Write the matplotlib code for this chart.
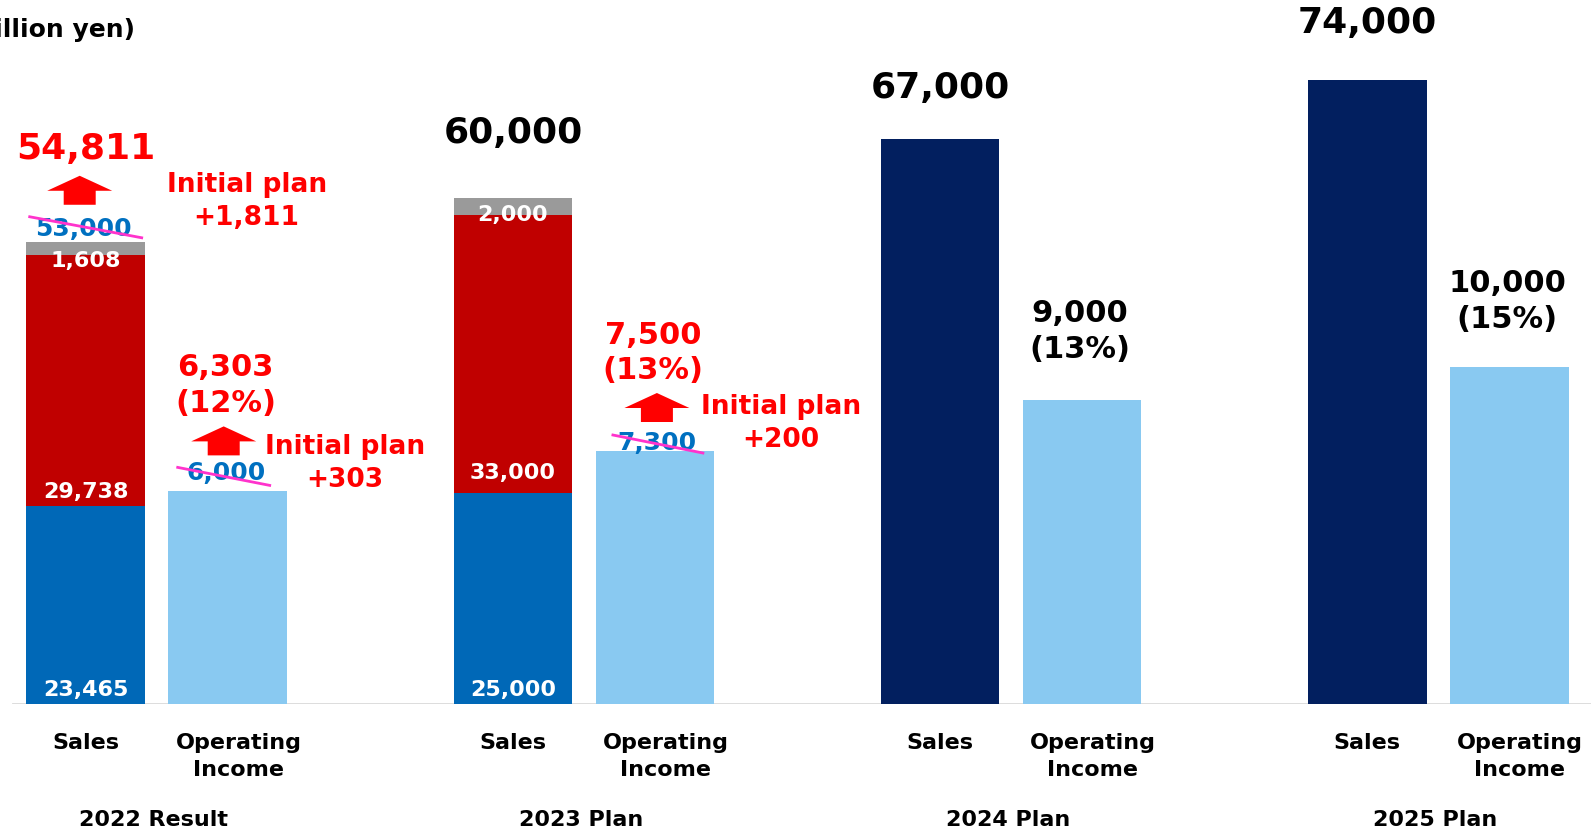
import matplotlib.pyplot as plt
import matplotlib.transforms as mtransforms
from matplotlib.patches import Polygon
from matplotlib.lines import Line2D
import numpy as np

plt.rcParams['font.family'] = ['DejaVu Sans']
plt.rcParams['font.weight'] = 'bold'

# values in million yen
years = ["2022 Result", "2023 Plan", "2024 Plan", "2025 Plan"]
sales_seg_a = [23465, 25000]      # blue segment (2022, 2023)
sales_seg_b = [29738, 33000]      # red segment
sales_seg_c = [1608, 2000]        # grey segment
sales_total = [54811, 60000, 67000, 74000]
op_income = [6303, 7500, 9000, 10000]
op_margin = [12, 13, 13, 15]
plan_sales_2022 = 53000
plan_oi = [6000, 7300]            # initial plans for 2022, 2023

C_BLUE = '#0068B7'
C_RED = '#C00000'
C_GREY = '#9A9A9A'
C_NAVY = '#021F5F'
C_LIGHT = '#89C9F1'
C_TXT_RED = '#FF0000'
C_TXT_BLUE = '#0070C0'
C_STRIKE = '#FF33CC'

fig = plt.figure(figsize=(15.91, 8.31), dpi=100)
ax = fig.add_axes([0, 127 / 831, 1, 704 / 831])
ax.set_xlim(-0.3668, 3.3574)
ax.set_ylim(0, 83480)
ax2 = ax.twinx()
ax2.set_ylim(0, 83480 / 4)   # operating income drawn at 4x scale

for a in (ax, ax2):
    for s in a.spines.values():
        s.set_visible(False)
ax.set_yticks([])
ax2.set_yticks([])

groups = np.arange(len(years))
off = 0.1662
w = 0.278
sales_x = groups - off
oi_x = groups + off

# sales bars
ax.bar(sales_x[:2], sales_seg_a, w, color=C_BLUE, zorder=2)
bottom_b = np.array(sales_seg_a)
ax.bar(sales_x[:2], sales_seg_b, w, bottom=bottom_b, color=C_RED, zorder=2)
bottom_c = bottom_b + np.array(sales_seg_b)
ax.bar(sales_x[:2], sales_seg_c, w, bottom=bottom_c, color=C_GREY, zorder=2)
ax.bar(sales_x[2:], sales_total[2:], w, color=C_NAVY, zorder=2)

# operating income bars
ax2.bar(oi_x, op_income, w, color=C_LIGHT, zorder=2)

ax.axhline(0, xmin=0.008, xmax=1, color='#D9D9D9', lw=2, zorder=1)


def px(a, x, y):
    # pixel-offset transform anchored at a data point
    return mtransforms.Affine2D() + mtransforms.ScaledTranslation(x, y, a.transData)


def up_arrow(a, x, y, dx, dy):
    verts = np.array([(-16, 0), (16, 0), (16, 14), (32.5, 14), (0, 29),
                      (-32.5, 14), (-16, 14)]) + (dx, dy)
    a.add_patch(Polygon(verts, closed=True, color=C_TXT_RED, lw=0,
                        transform=px(a, x, y), clip_on=False, zorder=5))


def struck(a, x, y, value, dx, dy, line):
    a.annotate(f"{value:,}", (x, y), xytext=(dx, dy), textcoords='offset pixels',
               ha='center', va='center', fontsize=18, color=C_TXT_BLUE,
               annotation_clip=False, zorder=5)
    (x0, y0), (x1, y1) = line
    a.add_line(Line2D([x0, x1], [y0, y1], color=C_STRIKE, lw=2,
                      transform=px(a, x, y), clip_on=False, zorder=6))


# segment labels inside sales bars
for i in range(2):
    ax.annotate(f"{sales_seg_a[i]:,}", (sales_x[i], 0), xytext=(0, 4),
                textcoords='offset pixels', ha='center', va='bottom',
                fontsize=16, color='white', zorder=4)
    ax.annotate(f"{sales_seg_b[i]:,}", (sales_x[i], bottom_b[i]), xytext=(0, 4 + 6 * i),
                textcoords='offset pixels', ha='center', va='bottom',
                fontsize=16, color='white', zorder=4)
    ax.annotate(f"{sales_seg_c[i]:,}", (sales_x[i], bottom_c[i]), xytext=(0, -6 + 6 * i),
                textcoords='offset pixels', ha='center', va='center',
                fontsize=16, color='white', zorder=4)

# sales totals
total_lift = [93, 65, 51, 57]
total_col = [C_TXT_RED, 'black', 'black', 'black']
for i, v in enumerate(sales_total):
    ax.annotate(f"{v:,}", (sales_x[i], v), xytext=(0, total_lift[i]),
                textcoords='offset pixels', ha='center', va='center',
                fontsize=26, color=total_col[i], annotation_clip=False, zorder=5)

# operating income values and margins
oi_lift = [106, 98, 69, 65]
oi_col = [C_TXT_RED, C_TXT_RED, 'black', 'black']
for i, v in enumerate(op_income):
    ax2.annotate(f"{v:,}\n({op_margin[i]}%)", (oi_x[i], v), xytext=(-2, oi_lift[i]),
                 textcoords='offset pixels', ha='center', va='center',
                 fontsize=22, color=oi_col[i], linespacing=1.3,
                 annotation_clip=False, zorder=5)

# revisions against the initial plan
up_arrow(ax, sales_x[0], sales_total[0], -6, 37)
struck(ax, sales_x[0], sales_total[0], plan_sales_2022, -2, 13, [(-56, 25), (56, 4)])
ax.annotate(f"Initial plan\n+{sales_total[0] - plan_sales_2022:,}", (sales_x[0], sales_total[0]),
            xytext=(161, 40), textcoords='offset pixels', ha='center', va='center',
            fontsize=19, color=C_TXT_RED, linespacing=1.35, zorder=5)

oi_rev = [(-4, 36, -2, 18, [(-50, 24), (42, 6)], 117),
          (2, 29, 2, 8, [(-42, 16), (48, -2)], 126)]
for i, (adx, ady, sdx, sdy, line, tdx) in enumerate(oi_rev):
    up_arrow(ax2, oi_x[i], op_income[i], adx, ady)
    struck(ax2, oi_x[i], op_income[i], plan_oi[i], sdx, sdy, line)
    ax2.annotate(f"Initial plan\n+{op_income[i] - plan_oi[i]:,}", (oi_x[i], op_income[i]),
                 xytext=(tdx, 28), textcoords='offset pixels', ha='center', va='center',
                 fontsize=19, color=C_TXT_RED, linespacing=1.35, zorder=5)

# axis labels (income labels sit a little right of their bars)
ticks = np.ravel(np.column_stack([sales_x, oi_x + 0.025]))
ax.set_xticks(ticks, ["Sales", "Operating\nIncome"] * len(years))
ax.tick_params(axis='x', length=0, pad=21, labelsize=16)
for t in ax.get_xticklabels():
    t.set_fontweight('bold')
    t.set_linespacing(1.45)

for i, yr in enumerate(years):
    ax.annotate(yr, (groups[i], 0), xytext=(-3, -116), textcoords='offset pixels',
                ha='center', va='center', fontsize=16, annotation_clip=False)

fig.text(135 / 1591, 1 - 30.5 / 831, "(Million yen)", ha='right', va='center',
         fontsize=18, fontweight='bold')

fig.savefig("out.png", dpi=100)
